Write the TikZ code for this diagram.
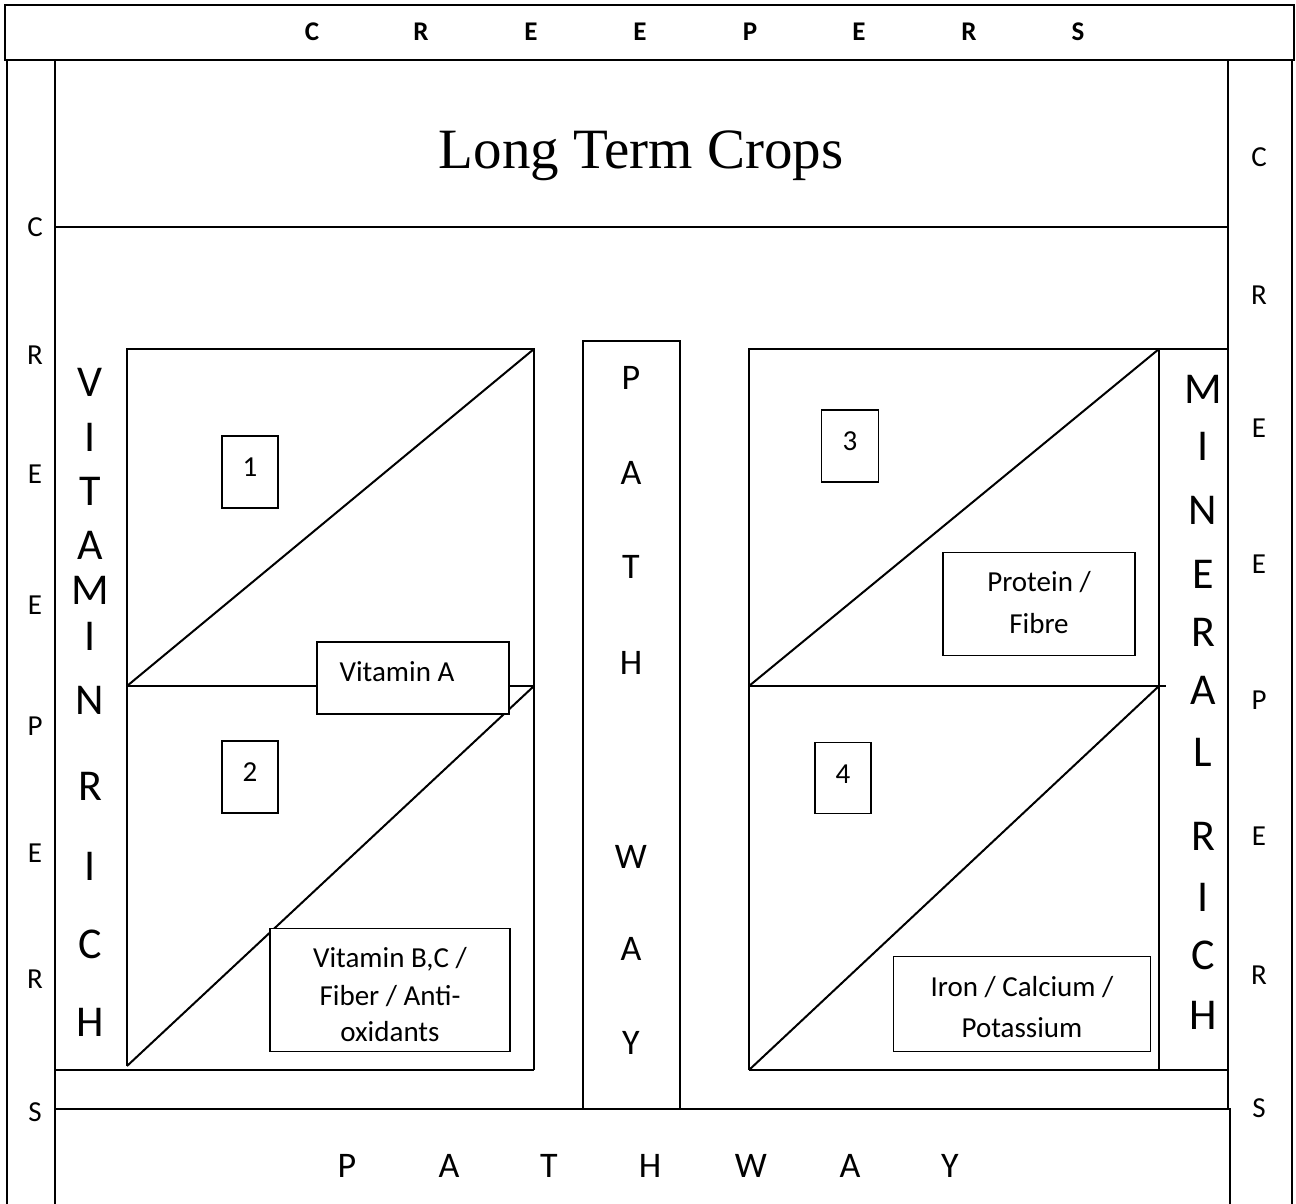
\documentclass[tikz,border=0pt]{standalone}
\usepackage{fontspec}
\setmainfont{Carlito}
\newfontfamily\serifcrop{Liberation Serif}
\begin{document}
\begin{tikzpicture}[x=0.5pt,y=-0.5pt,line width=1pt,
  lbl/.style={inner sep=0pt,font=\fontsize{14.5}{17}\selectfont},
  toplbl/.style={inner sep=0pt,font=\fontsize{13.5}{15}\selectfont\bfseries},
  bigl/.style={inner sep=0pt,font=\fontsize{22}{26}\selectfont},
  pathl/.style={inner sep=0pt,font=\fontsize{18}{22}\selectfont},
  tagbox/.style={draw,line width=0.8pt,fill=white,inner sep=0pt,align=center,
    font=\fontsize{14.5}{18.5}\selectfont},
]
\useasboundingbox (0,0) rectangle (1296,1204);
% frame
\draw (5,5) rectangle (1294,60);
\draw (7,60) -- (7,1204);
\draw (1292,60) -- (1292,1204);
\draw (55,60) -- (55,1204);
\draw (1228,60) -- (1228,1109);
\draw (55,227) -- (1228,227);
\draw (55,1070) -- (534,1070);
\draw (749,1070) -- (1228,1070);
\draw (55,1109) -- (1230,1109) -- (1230,1204);
% left block
\draw (127,1066) -- (127,349) -- (534,349) -- (534,1070);
\draw (127,686) -- (534,686);
\draw (127,686) -- (534,349);
\draw (127,1066) -- (534,686);
% pathway column
\draw (583,1109) -- (583,341) -- (680,341) -- (680,1109);
% right block
\draw (749,1070) -- (749,349) -- (1228,349);
\draw (1159,349) -- (1159,1070);
\draw (749,686) -- (1166,686);
\draw (749,686) -- (1159,349);
\draw (749,1070) -- (1159,686);
% title
\node[inner sep=0pt,font=\serifcrop\fontsize{28.5}{34}\selectfont] (title) at (641,156) {Long Term Crops};
% top creepers
\foreach \l/\x [count=\i] in {C/312,R/421,E/531,E/640,P/750,E/859,R/969,S/1078}
  \node[toplbl] (top\i) at (\x,32) {\l};
% left creepers
\foreach \l/\y [count=\i] in {C/227,R/355,E/474,E/605,P/726,E/853,R/979,S/1112}
  \node[lbl] (lc\i) at (35,\y) {\l};
% right creepers
\foreach \l/\y [count=\i] in {C/157,R/295,E/428,E/564,P/700,E/836,R/975,S/1108}
  \node[lbl] (rc\i) at (1259,\y) {\l};
% vitamin rich
\foreach \l/\y [count=\i] in {V/382,I/437,T/491,A/545,M/590,I/636,N/700,R/786,I/866,C/944,H/1022}
  \node[bigl] (vr\i) at (90,\y) {\l};
% mineral rich
\foreach \l/\y [count=\i] in {M/389,I/446,N/510,E/574,R/632,A/690,L/752,R/836,I/897,C/955,H/1015}
  \node[bigl] (mr\i) at (1203,\y) {\l};
% pathway vertical
\foreach \l/\y [count=\i] in {P/378,A/473,T/567,H/663,W/857,A/949,Y/1043}
  \node[pathl] (pv\i) at (631,\y) {\l};
% pathway bottom
\foreach \l/\x [count=\i] in {P/347,A/449,T/549,H/650,W/751,A/850,Y/950}
  \node[pathl] (ph\i) at (\x,1166) {\l};
% tag boxes
\node[tagbox,minimum width=96pt,minimum height=36pt] (vita) at (413,678) {};
\node[lbl] (vitat) at (397,672) {Vitamin A};
\node[tagbox,minimum width=28pt,minimum height=36pt] (b1) at (250,472) {};
\node[lbl] (b1t) at (250,467) {1};
\node[tagbox,minimum width=28pt,minimum height=36pt] (b2) at (250,777) {};
\node[lbl] (b2t) at (250,772) {2};
\node[tagbox,minimum width=28.5pt,minimum height=36pt] (b3) at (850,446) {};
\node[lbl] (b3t) at (850,441) {3};
\node[tagbox,minimum width=28pt,minimum height=35.5pt] (b4) at (843,778) {};
\node[lbl] (b4t) at (843,774) {4};
\node[tagbox,minimum width=96pt,minimum height=51.5pt] (prot) at (1039,604) {};
\node[lbl] (prot1) at (1039,582) {Protein /};
\node[lbl] (prot2) at (1039,624) {Fibre};
\node[tagbox,minimum width=120pt,minimum height=61.5pt] (vitb) at (390,990) {};
\node[lbl] (vitb1) at (390,959) {Vitamin B,C /};
\node[lbl] (vitb2) at (390,996) {Fiber / Anti-};
\node[lbl] (vitb3) at (390,1032) {oxidants};
\node[tagbox,minimum width=128.5pt,minimum height=47.5pt] (iron) at (1022,1004) {};
\node[lbl] (iron1) at (1022,987) {Iron / Calcium /};
\node[lbl] (iron2) at (1022,1028) {Potassium};
\end{tikzpicture}
\end{document}
